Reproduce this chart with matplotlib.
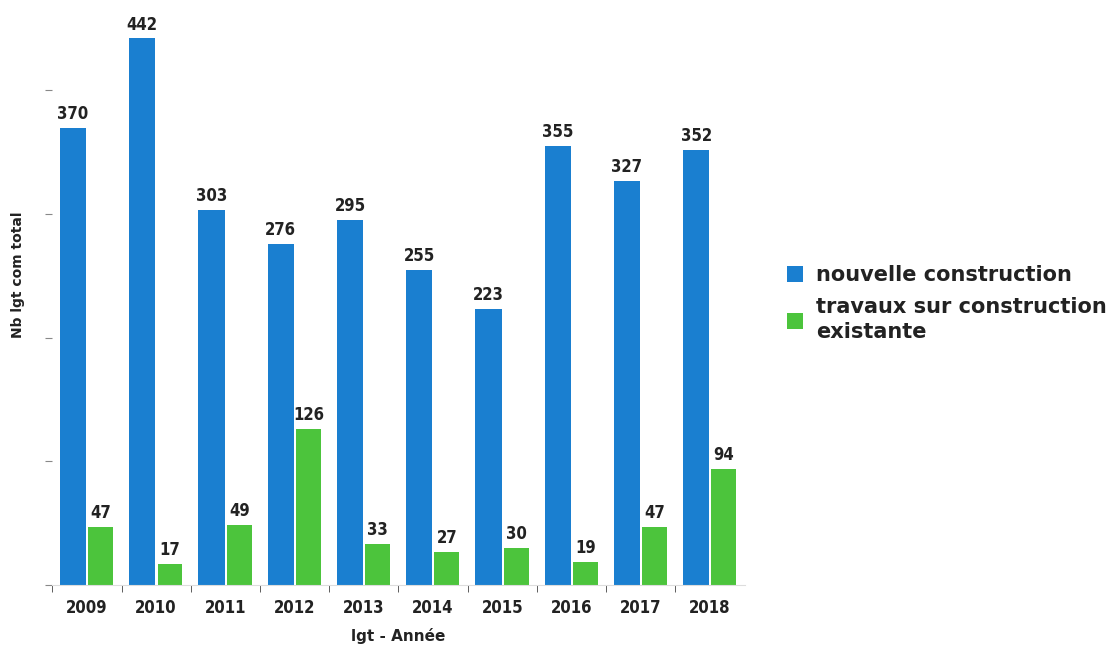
import numpy as np
import matplotlib.pyplot as plt

annees = ['2009', '2010', '2011', '2012', '2013', '2014', '2015', '2016', '2017', '2018']
nouvelle = [370, 442, 303, 276, 295, 255, 223, 355, 327, 352]
travaux = [47, 17, 49, 126, 33, 27, 30, 19, 47, 94]

bleu = '#1a7fd0'
vert = '#4cc43c'
texte = '#222222'

plt.rcParams['font.family'] = ['DejaVu Sans']

fig = plt.figure(figsize=(11.13, 6.48), dpi=100)
ax = fig.add_axes([0.047, 0.097, 0.622, 0.878])

x = np.arange(len(annees))
w = 0.38
b1 = ax.bar(x - 0.2, nouvelle, w, color=bleu, label='nouvelle construction')
b2 = ax.bar(x + 0.2, travaux, w * 0.95, color=vert,
            label='travaux sur construction\nexistante')

for bars, vals in ((b1, nouvelle), (b2, travaux)):
    for r, v in zip(bars, vals):
        ax.text(r.get_x() + r.get_width() / 2, v + 4, str(v), ha='center', va='bottom',
                fontsize=12, fontweight='heavy', fontstretch='condensed', color=texte)

ax.set_xlim(-0.5, len(annees) - 0.5)
ax.set_ylim(0, 460)
ax.set_xticks(x)
ax.set_xticklabels(annees, fontsize=12, fontweight='heavy', fontstretch='condensed', color=texte)
ax.set_xticks(np.arange(len(annees)) - 0.5, minor=True)
ax.tick_params(axis='x', which='major', length=0, pad=10)
ax.tick_params(axis='x', which='minor', length=5, color='#444444')
ax.set_yticks([0, 100, 200, 300, 400])
ax.set_yticklabels([])
ax.tick_params(axis='y', length=5, color='#888888')

for s in ('top', 'right', 'left'):
    ax.spines[s].set_visible(False)
ax.spines['bottom'].set_color('#dddddd')

ax.set_xlabel('lgt - Année', fontsize=11, fontweight='bold', color=texte, labelpad=8)
ax.set_ylabel('Nb lgt com total', fontsize=10, fontweight='bold', color=texte)
ax.yaxis.set_label_coords(-0.04, 0.545)

leg = fig.legend(handles=[b1, b2], loc='upper left', bbox_to_anchor=(0.69, 0.62),
                 frameon=False, handlelength=0.8, handleheight=0.8,
                 handletextpad=0.6, labelspacing=0.6,
                 prop={'size': 15, 'weight': 'bold'})
for t in leg.get_texts():
    t.set_color(texte)
    t.set_linespacing(1.3)

fig.savefig('out.png', dpi=100, facecolor='white')
